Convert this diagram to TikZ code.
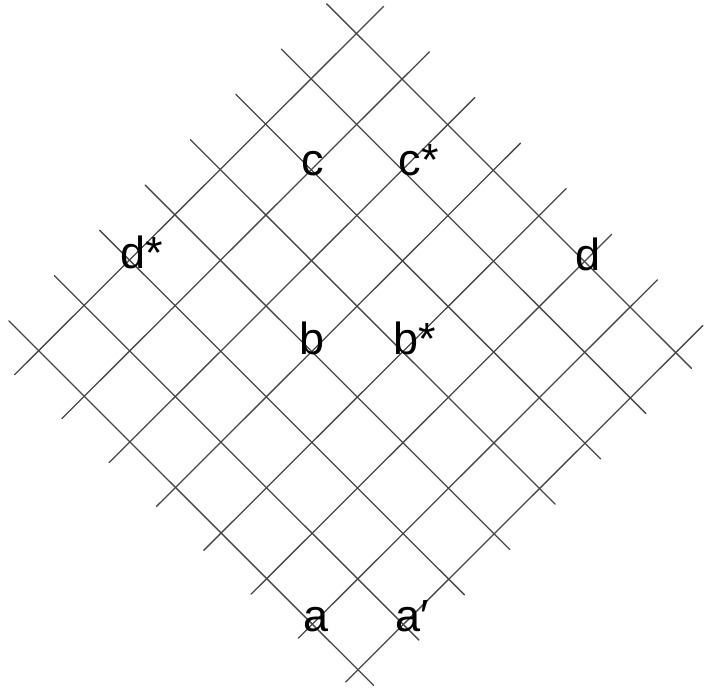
\documentclass[tikz,border=0pt]{standalone}
\usepackage{fontspec}
\setmainfont{Liberation Sans}
\usetikzlibrary{calc}
\newcommand\labfont{\fontsize{45}{54}\selectfont}
\begin{document}
\begin{tikzpicture}[x=1pt,y=-1pt,line cap=round,line join=round]
  \tikzset{gridline/.style={draw=black!72,line width=1.3pt},
    lab/.style={anchor=base west,inner sep=0pt,font=\labfont}}
  \useasboundingbox (0,0) rectangle (707,689);
  % u runs down to the right, v down to the left, from the top corner
  \coordinate (top) at (356.7,33.3);
  \coordinate (u) at (45.6,45.6);
  \coordinate (v) at (-45.4,45.3);
  \foreach \j in {0,...,7} {
    \draw[gridline] ($(top)+\j*(v)+(-30,-29.5)$) -- ($(top)+\j*(v)+7*(u)+(15.5,15.8)$);
  }
  \foreach \i in {0,...,7} {
    \draw[gridline] ($(top)+\i*(u)+(27,-27)$) -- ($(top)+\i*(u)+7*(v)+({-24.3+1.7*\i},{24.3-1.7*\i})$);
  }
  \node[lab] (c) at (301,175) {c};
  \node[lab] (cs) at (398.3,175) {c*};
  \node[lab] (ds) at (120.2,268.3) {d*};
  \node[lab] (d) at (575.2,270) {d};
  \node[lab] (b) at (299.7,354.5) {b};
  \node[lab] (bs) at (393,354.5) {b*};
  \node[lab] (a) at (303,631.5) {a};
  \node[lab] (ap) at (395,631.5) {a\symbol{"2032}};
\end{tikzpicture}
\end{document}
